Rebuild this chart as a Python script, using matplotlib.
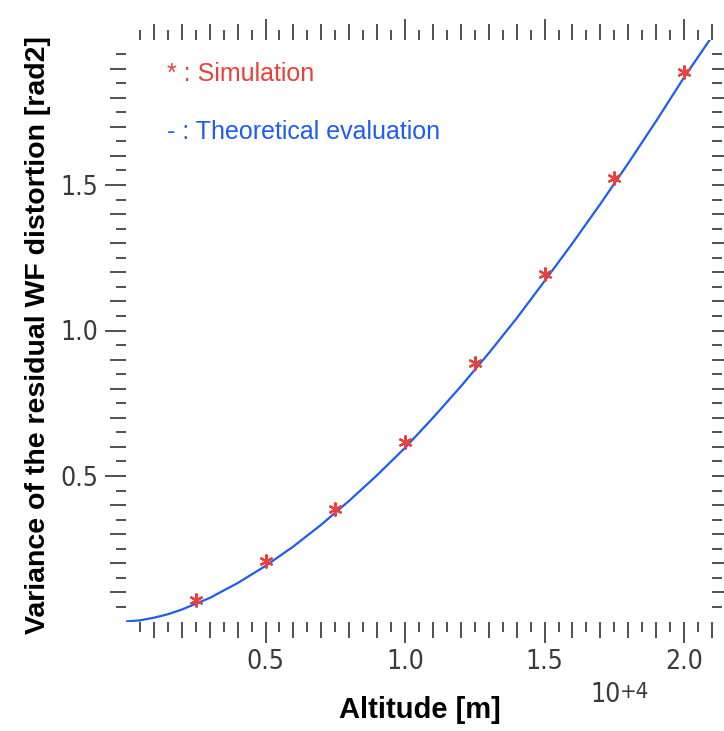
import matplotlib
matplotlib.use("Agg")
from matplotlib import pyplot as plt
from matplotlib.ticker import FixedLocator

# simulated variance at each altitude (x in units of 1e4 m)
sim_x = [0.25, 0.5, 0.75, 1.0, 1.25, 1.5, 1.75, 2.0]
sim_y = [0.074, 0.208, 0.386, 0.618, 0.887, 1.194, 1.525, 1.887]

# theoretical curve
theory_x = [0.0, 0.05, 0.1, 0.15, 0.2, 0.3, 0.4, 0.5, 0.6, 0.7, 0.8, 0.9,
            1.0, 1.1, 1.2, 1.3, 1.4, 1.5, 1.6, 1.7, 1.8, 1.9, 2.0, 2.1]
theory_y = [0.0, 0.004, 0.013, 0.025, 0.041, 0.081, 0.132, 0.191, 0.258,
            0.333, 0.415, 0.503, 0.597, 0.700, 0.808, 0.922, 1.042, 1.170,
            1.300, 1.435, 1.575, 1.720, 1.870, 2.010]

x_major = [0.5, 1.0, 1.5, 2.0]
y_major = [0.5, 1.0, 1.5]

RED = "#e8413c"
BLUE = "#1f5cf2"
TICK = "#333333"
GREY = "#3a3a3a"
LABEL_FONT = ["Liberation Sans", "DejaVu Sans"]
NUM_FONT = ["DejaVu Sans"]

fig = plt.figure(figsize=(7.24, 7.31), dpi=100)
ax = fig.add_axes([126 / 724, 1 - 621.5 / 731, 586 / 724, 582 / 731])

ax.plot(theory_x, theory_y, color=BLUE, lw=1.6, zorder=2)
ax.plot(sim_x, sim_y, ls="none", marker=(6, 2, 0), ms=10, mew=1.6,
        color=RED, zorder=3)

ax.set_xlim(0, 2.1)
ax.set_ylim(0, 2.0)
for sp in ax.spines.values():
    sp.set_visible(False)

x_minor = [round(0.05 * k, 2) for k in range(1, 43) if round(0.05 * k, 2) not in x_major]
y_minor = [round(0.05 * k, 2) for k in range(1, 40) if round(0.05 * k, 2) not in y_major]
ax.xaxis.set_major_locator(FixedLocator(x_major))
ax.yaxis.set_major_locator(FixedLocator(y_major))
ax.xaxis.set_minor_locator(FixedLocator(x_minor))
ax.yaxis.set_minor_locator(FixedLocator(y_minor))
ax.set_xticklabels(["%.1f" % v for v in x_major])
ax.set_yticklabels(["%.1f" % v for v in y_major])

ax.tick_params(which="both", direction="out", top=True, right=True,
               color=TICK, width=1.2)
ax.tick_params(which="major", length=15, pad=5, labelsize=19,
               labelcolor=GREY)
ax.tick_params(which="minor", length=7.5)
for lab in ax.get_xticklabels() + ax.get_yticklabels():
    lab.set_family(NUM_FONT)
    lab.set_stretch("condensed")

# every 0.1 a longer minor tick, every 0.05 a short one
for axis, locs in ((ax.xaxis, x_minor), (ax.yaxis, y_minor)):
    ticks = axis.get_minor_ticks(len(locs))
    for t, v in zip(ticks, locs):
        if abs(v * 10 - round(v * 10)) < 1e-6:
            t.tick1line.set_markersize(11.5)
            t.tick2line.set_markersize(11.5)

fig.text(167 / 724, 1 - 81 / 731, "* : Simulation",
         color=RED, fontsize=18, family=LABEL_FONT, va="baseline")
fig.text(167 / 724, 1 - 139 / 731, "- : Theoretical evaluation",
         color=BLUE, fontsize=18, family=LABEL_FONT, va="baseline")

fig.text(420 / 724, 1 - 718 / 731, "Altitude [m]", ha="center",
         va="baseline", fontsize=21, fontweight="bold", family=LABEL_FONT)
fig.text(38 / 724, 1 - 335 / 731,
         "Variance of the residual WF distortion [rad2]", ha="center",
         va="center", rotation=90, fontsize=20.5, fontweight="bold",
         family=LABEL_FONT)

ten = fig.text(590 / 724, 1 - 702 / 731, "10", fontsize=19, color=GREY,
               family=NUM_FONT, stretch="condensed", va="baseline")
ax.annotate("+4", xy=(1, 0), xycoords=ten, xytext=(0, 7),
            textcoords="offset points", fontsize=16, color=GREY,
            family=NUM_FONT, stretch="condensed", va="baseline",
            annotation_clip=False)

fig.savefig("out.png", dpi=100)
